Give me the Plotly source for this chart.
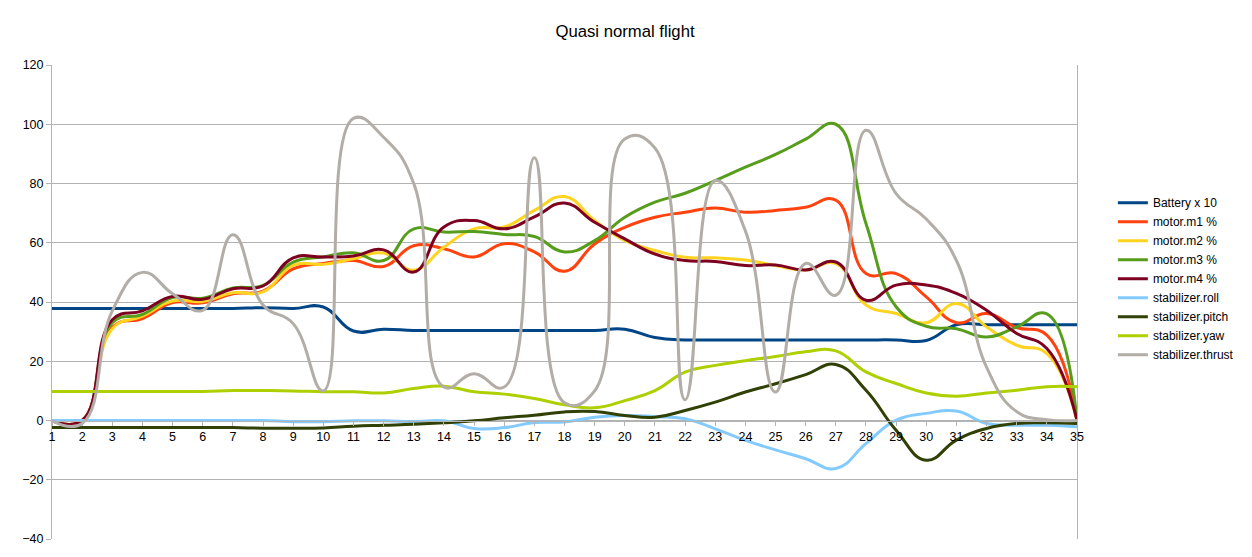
import plotly.graph_objects as go

# categories 1..35 (one sample per step)
steps = list(range(1, 36))

battery_x10 = [37.8, 37.8, 37.8, 37.8, 37.8, 37.8, 37.8, 38.1, 37.8, 38.3,
               30.2, 30.8, 30.4, 30.4, 30.4, 30.4, 30.4, 30.4, 30.4, 30.8,
               28.0, 27.2, 27.2, 27.2, 27.2, 27.2, 27.2, 27.2, 27.2, 27.0,
               32.3, 32.3, 32.3, 32.3, 32.3]

motor_m1 = [0, 0, 31.5, 34.4, 39.8, 39.7, 42.8, 43.7, 51.2, 53.0,
            54.0, 52.0, 59.0, 58.0, 55.2, 59.7, 56.9, 50.4, 59.6, 65.2,
            68.6, 70.3, 71.7, 70.3, 70.9, 72.0, 74.4, 49.6, 49.6, 41.7,
            33.0, 36.1, 31.4, 28.8, 0]

motor_m2 = [0, 0, 31.0, 35.2, 40.3, 40.2, 43.1, 43.4, 52.4, 52.7,
            54.6, 56.5, 50.7, 58.5, 64.7, 65.3, 70.9, 75.6, 67.5, 60.7,
            57.4, 55.1, 54.9, 54.2, 52.3, 50.8, 53.0, 39.0, 36.1, 33.0,
            39.5, 31.6, 25.4, 22.6, 0]

motor_m3 = [0, 0, 33.0, 35.8, 41.5, 41.3, 44.7, 45.6, 53.5, 55.2,
            56.6, 54.0, 64.7, 63.6, 63.8, 62.8, 62.1, 56.9, 60.7, 68.6,
            73.7, 76.7, 81.0, 85.5, 89.8, 95.0, 100.0, 66.5, 38.4, 31.8,
            31.0, 28.2, 31.6, 36.0, 0]

motor_m4 = [0, 0, 34.0, 37.0, 41.9, 40.9, 44.5, 45.4, 54.9, 55.2,
            55.5, 57.6, 50.1, 65.3, 67.5, 64.7, 68.7, 73.4, 66.9, 61.3,
            56.2, 54.0, 53.7, 52.3, 52.5, 50.8, 53.5, 40.6, 45.7, 45.7,
            42.9, 37.2, 29.4, 24.3, 0]

stab_roll = [0, 0, 0, 0, 0, 0, 0, 0, -0.4, -0.4,
             -0.1, -0.1, -0.4, -0.1, -2.7, -2.4, -0.7, -0.5, 1.1, 1.7,
             1.3, 0.6, -2.8, -6.7, -9.9, -12.9, -16.2, -7.8, 0.1, 2.4,
             3.2, -1.0, -1.6, -1.6, -2.1]

stab_pitch = [-2.4, -2.4, -2.4, -2.4, -2.4, -2.4, -2.4, -2.6, -2.6, -2.5,
              -1.9, -1.6, -1.3, -0.8, -0.1, 0.9, 1.8, 2.9, 3.0, 1.7,
              1.1, 3.4, 6.2, 9.6, 12.4, 15.5, 18.9, 10.2, -3.3, -13.4,
              -6.6, -2.7, -1.0, -0.8, -1.0]

stab_yaw = [9.8, 9.8, 9.8, 9.8, 9.8, 9.8, 10.1, 10.1, 10.0, 9.7,
            9.7, 9.3, 10.8, 11.6, 9.7, 8.9, 7.4, 5.3, 4.3, 6.7,
            10.1, 16.3, 18.6, 20.2, 21.6, 23.2, 23.5, 16.4, 12.5, 9.3,
            8.2, 9.3, 10.2, 11.4, 11.4]

stab_thrust = [0, -1, 37.0, 50.0, 42.8, 37.2, 62.7, 39.0, 32.7, 10.0,
               102.0, 95.6, 80.0, 11.3, 15.8, 11.3, 88.7, 6.0, 10.0, 95.0,
               92.0, 7.0, 81.0, 64.0, 9.6, 53.0, 42.3, 98.0, 76.6, 68.0,
               54.0, 18.0, 3.0, 0.3, 0]

series = [
    ("Battery x 10", battery_x10, "#004586"),
    ("motor.m1 %", motor_m1, "#ff420e"),
    ("motor.m2 %", motor_m2, "#ffd320"),
    ("motor.m3 %", motor_m3, "#579d1c"),
    ("motor.m4 %", motor_m4, "#7e0021"),
    ("stabilizer.roll", stab_roll, "#83caff"),
    ("stabilizer.pitch", stab_pitch, "#314004"),
    ("stabilizer.yaw", stab_yaw, "#aecf00"),
    ("stabilizer.thrust", stab_thrust, "#b3ada7"),
]

fig = go.Figure()
for name, values, color in series:
    fig.add_trace(go.Scatter(
        x=steps, y=values, name=name, mode="lines",
        line=dict(color=color, width=3, shape="spline", smoothing=1.3),
    ))

grid = "#b3b3b3"
# the page body adds an 8px offset, margins are shifted to compensate
fig.update_layout(
    width=1252, height=557,
    margin=dict(l=44, r=183, t=57, b=26),
    paper_bgcolor="white", plot_bgcolor="white",
    font=dict(family="Liberation Sans, Arial, sans-serif", size=12, color="#000000"),
    title=dict(text="Quasi normal flight", x=0.4928, xref="container",
               y=0.959, yanchor="middle", font=dict(size=16.7)),
    legend=dict(x=1.035, y=0.549, xanchor="left", yanchor="middle",
                font=dict(size=12), bgcolor="rgba(0,0,0,0)"),
    showlegend=True,
)
fig.update_yaxes(
    range=[-40, 120], dtick=20, tick0=0,
    showgrid=True, gridcolor=grid, gridwidth=1,
    showline=True, linecolor=grid, mirror=True,
    ticks="outside", ticklen=5, tickcolor=grid,
    zeroline=False, tickfont=dict(size=12.5), automargin=False,
)
# category axis crosses the value axis at 0 -> 40/160 of the plot height
fig.update_xaxes(
    range=[1, 35], tickmode="linear", tick0=1, dtick=1,
    showgrid=False, zeroline=False,
    showline=True, linecolor=grid,
    anchor="free", position=0.25,
    ticks="outside", ticklen=4, tickcolor=grid,
    tickfont=dict(size=12.5), automargin=False,
)

fig.write_html("out.html")
